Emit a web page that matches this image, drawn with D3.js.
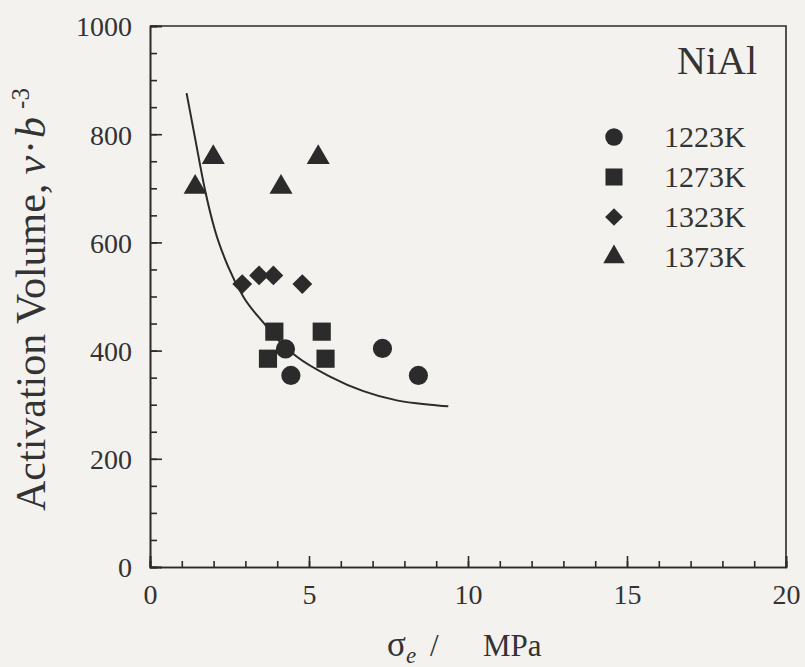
<!DOCTYPE html>
<html>
<head>
<meta charset="utf-8">
<script src="https://cdn.jsdelivr.net/npm/d3@7"></script>
<style>
  html, body { margin: 0; padding: 0; background: #f3f2ee; }
  svg { display: block; }
  svg text { font-family: "Liberation Serif", "Times New Roman", serif !important; }
</style>
</head>
<body>
<svg id="chart" width="805" height="667"></svg>
<script>
// ---- data ----
const seriesNames = ["1223K", "1273K", "1323K", "1373K"];
const s1223 = [[4.26, 403], [4.43, 354], [7.31, 404], [8.44, 354]];
const s1273 = [[3.91, 435], [5.40, 435], [3.71, 385], [5.52, 385]];
const s1323 = [[2.90, 523], [3.43, 539], [3.88, 539], [4.79, 523]];
const s1373 = [[1.42, 702], [1.99, 757], [4.12, 702], [5.29, 757]];
const fitCurve = [[1.15, 876], [1.41, 795], [1.73, 697], [2.04, 623], [2.45, 556], [2.93, 500],
                  [3.56, 452], [4.19, 410], [4.61, 389], [5.66, 352], [6.71, 325], [7.76, 308],
                  [8.81, 300], [9.38, 297]];
const xMajorTicks = [0, 5, 10, 15, 20];
const yMajorTicks = [0, 200, 400, 600, 800, 1000];
const xMinorTicks = d3.range(0, 21, 1);
const yMinorTicks = d3.range(0, 1001, 50);

const svg = d3.select("#chart");
const mLeft = 150, mRight = 786, mTop = 26, mBottom = 567;
const x = d3.scaleLinear().domain([0, 20]).range([mLeft, mRight]);
const y = d3.scaleLinear().domain([0, 1000]).range([mBottom, mTop]);
const ink = "#2b2b2b";
const txt = "#333";

// frame (top + right)
svg.append("path")
  .attr("d", `M${mLeft},${mTop}H${mRight}V${mBottom}`)
  .attr("fill", "none").attr("stroke", ink).attr("stroke-width", 1.6);

// minor ticks
const yMinor = svg.append("g").attr("transform", `translate(${mLeft},0)`)
  .call(d3.axisLeft(y).tickValues(yMinorTicks).tickSize(-7).tickFormat(""));
const xMinor = svg.append("g").attr("transform", `translate(0,${mBottom})`)
  .call(d3.axisBottom(x).tickValues(xMinorTicks).tickSize(-6).tickFormat(""));
// major ticks with labels
const yMajor = svg.append("g").attr("transform", `translate(${mLeft},0)`)
  .call(d3.axisLeft(y).tickValues(yMajorTicks).tickSize(-12).tickFormat(d3.format("d")));
const xMajor = svg.append("g").attr("transform", `translate(0,${mBottom})`)
  .call(d3.axisBottom(x).tickValues(xMajorTicks).tickSize(-11).tickFormat(d3.format("d")));

[yMinor, xMinor, yMajor, xMajor].forEach(g => {
  g.attr("font-family", null);
  g.selectAll("path.domain").attr("stroke", ink).attr("stroke-width", 1.6);
  g.selectAll(".tick line").attr("stroke", ink).attr("stroke-width", 1.6);
});
yMajor.selectAll(".tick text").attr("font-size", 28).attr("fill", txt)
  .attr("x", -18).attr("dy", "0.35em");
xMajor.selectAll(".tick text").attr("font-size", 28).attr("fill", txt)
  .attr("y", 17).attr("dy", "0.71em");

// fitted curve
svg.append("path")
  .datum(fitCurve)
  .attr("d", d3.line().x(d => x(d[0])).y(d => y(d[1])).curve(d3.curveMonotoneX))
  .attr("fill", "none").attr("stroke", ink).attr("stroke-width", 2);

// markers
const symbols = [
  d3.symbol().type(d3.symbolCircle).size(290),
  d3.symbol().type(d3.symbolSquare).size(330),
  d3.symbol().type(d3.symbolDiamond2).size(250),
  d3.symbol().type(d3.symbolTriangle).size(230)
];
const allSeries = [s1223, s1273, s1323, s1373];
allSeries.forEach((s, i) => {
  svg.append("g").selectAll("path").data(s).join("path")
    .attr("d", symbols[i]())
    .attr("transform", d => `translate(${x(d[0])},${y(d[1])})`)
    .attr("fill", ink);
});

// legend
svg.append("text").attr("x", 757).attr("y", 74).attr("text-anchor", "end")
  .attr("font-size", 40).attr("fill", txt).text("NiAl");
const legSymbols = [
  d3.symbol().type(d3.symbolCircle).size(240),
  d3.symbol().type(d3.symbolSquare).size(290),
  d3.symbol().type(d3.symbolDiamond2).size(200),
  d3.symbol().type(d3.symbolTriangle).size(200)
];
seriesNames.forEach((name, i) => {
  const cy = 137 + i * 40;
  svg.append("path").attr("d", legSymbols[i]())
    .attr("transform", `translate(614,${cy})`).attr("fill", ink);
  svg.append("text").attr("x", 664).attr("y", cy + 10)
    .attr("font-size", 30).attr("fill", txt).text(name);
});

// x axis title
const xt = svg.append("text").attr("x", 387).attr("y", 656)
  .attr("font-size", 31).attr("fill", txt);
xt.append("tspan").attr("font-size", 35).text("σ");
xt.append("tspan").attr("font-style", "italic").attr("font-size", 23).attr("dy", 7).text("e");
xt.append("tspan").attr("x", 430).attr("dy", -7).text("/");
xt.append("tspan").attr("x", 483).text("MPa");

// y axis title
const yt = svg.append("text").attr("transform", "translate(45,511) rotate(-90)")
  .attr("text-anchor", "start").attr("font-size", 42).attr("fill", txt);
yt.append("tspan").text("Activation Volume,");
yt.append("tspan").attr("dx", 9).attr("font-style", "italic").text("v");
yt.append("tspan").attr("dx", 2).text("·");
yt.append("tspan").attr("dx", 2).attr("font-style", "italic").text("b");
yt.append("tspan").attr("dx", 8).attr("font-size", 25).attr("dy", -16).text("-3");
</script>
</body>
</html>
